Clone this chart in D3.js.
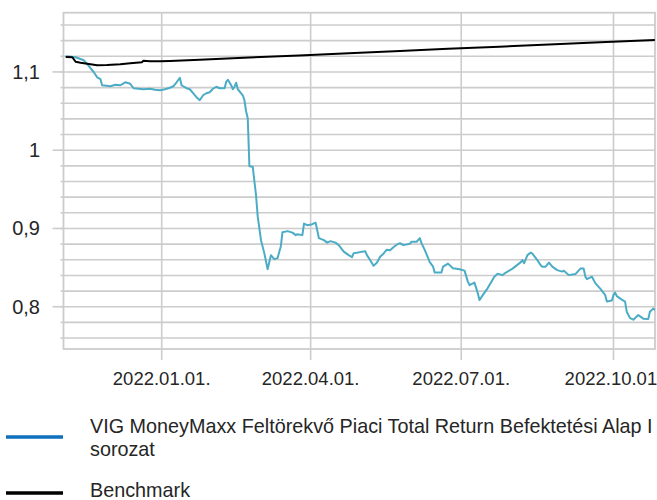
<!DOCTYPE html>
<html>
<head>
<meta charset="utf-8">
<script src="https://cdn.jsdelivr.net/npm/d3@7"></script>
<style>
  html, body { margin: 0; padding: 0; background: #ffffff; }
  svg { display: block; }
  text { font-family: "Liberation Sans", Arial, sans-serif; fill: #262626; }
</style>
</head>
<body>
<svg id="chart" width="657" height="500"></svg>
<script>
// ---------------- DATA ----------------
const fundDates = [
  "2021-11-04","2021-11-10","2021-11-15","2021-11-18","2021-11-21","2021-11-23","2021-11-25","2021-11-26",
  "2021-12-01","2021-12-04","2021-12-07","2021-12-10","2021-12-13","2021-12-15","2021-12-18","2021-12-21",
  "2021-12-25","2021-12-28","2021-12-31","2022-01-03","2022-01-06","2022-01-08","2022-01-10","2022-01-12",
  "2022-01-13","2022-01-16","2022-01-18","2022-01-20","2022-01-22","2022-01-24","2022-01-26","2022-01-28",
  "2022-01-30","2022-02-01","2022-02-03","2022-02-05","2022-02-08","2022-02-09","2022-02-10","2022-02-12",
  "2022-02-13","2022-02-14","2022-02-15","2022-02-16","2022-02-19","2022-02-20","2022-02-21","2022-02-22",
  "2022-02-23","2022-02-25","2022-02-27","2022-02-28","2022-03-02","2022-03-04","2022-03-06","2022-03-08",
  "2022-03-10","2022-03-12","2022-03-14","2022-03-15","2022-03-18","2022-03-21","2022-03-23","2022-03-24",
  "2022-03-27","2022-03-28","2022-03-30","2022-04-02","2022-04-04","2022-04-05","2022-04-06","2022-04-09",
  "2022-04-11","2022-04-13","2022-04-16","2022-04-18","2022-04-21","2022-04-24","2022-04-26","2022-04-27",
  "2022-04-29","2022-05-02","2022-05-04","2022-05-05","2022-05-07","2022-05-09","2022-05-11","2022-05-13",
  "2022-05-15","2022-05-17","2022-05-19","2022-05-21","2022-05-23","2022-05-25","2022-05-27","2022-05-31",
  "2022-06-01","2022-06-04","2022-06-06","2022-06-07","2022-06-09","2022-06-12","2022-06-14","2022-06-15",
  "2022-06-19","2022-06-20","2022-06-23","2022-06-26","2022-06-30","2022-07-03","2022-07-05","2022-07-06",
  "2022-07-09","2022-07-11","2022-07-12","2022-07-14","2022-07-17","2022-07-21","2022-07-23","2022-07-26",
  "2022-07-27","2022-08-01","2022-08-06","2022-08-07","2022-08-08","2022-08-10","2022-08-12","2022-08-13",
  "2022-08-16","2022-08-18","2022-08-19","2022-08-21","2022-08-23","2022-08-25","2022-08-28","2022-08-31",
  "2022-09-01","2022-09-04","2022-09-08","2022-09-11","2022-09-13","2022-09-14","2022-09-15","2022-09-18",
  "2022-09-20","2022-09-23","2022-09-26","2022-09-27","2022-09-30","2022-10-01","2022-10-02","2022-10-03",
  "2022-10-06","2022-10-08","2022-10-09","2022-10-11","2022-10-13","2022-10-16","2022-10-19","2022-10-22",
  "2022-10-23","2022-10-25","2022-10-26"
];
const fundValues = [
  1.1201,1.1188,1.1149,1.1073,1.0996,1.0932,1.0907,1.0830,
  1.0817,1.0837,1.0830,1.0868,1.0849,1.0792,1.0785,1.0779,
  1.0785,1.0773,1.0766,1.0779,1.0798,1.0817,1.0868,1.0926,
  1.0830,1.0792,1.0779,1.0728,1.0677,1.0639,1.0702,1.0728,
  1.0741,1.0785,1.0811,1.0792,1.0792,1.0875,1.0900,1.0830,
  1.0779,1.0811,1.0862,1.0779,1.0702,1.0639,1.0498,1.0409,
  0.9796,0.9789,0.9425,0.9157,0.8851,0.8685,0.8480,0.8659,
  0.8608,0.8621,0.8774,0.8953,0.8966,0.8947,0.8915,0.8927,
  0.8915,0.9062,0.9042,0.9055,0.9074,0.8978,0.8876,0.8851,
  0.8819,0.8838,0.8819,0.8787,0.8704,0.8659,0.8634,0.8685,
  0.8691,0.8704,0.8710,0.8659,0.8595,0.8525,0.8563,0.8640,
  0.8678,0.8729,0.8723,0.8761,0.8793,0.8812,0.8787,0.8806,
  0.8831,0.8831,0.8876,0.8812,0.8723,0.8570,0.8512,0.8436,
  0.8436,0.8512,0.8551,0.8493,0.8480,0.8461,0.8321,0.8276,
  0.8308,0.8174,0.8085,0.8148,0.8238,0.8384,0.8423,0.8404,
  0.8423,0.8487,0.8570,0.8595,0.8557,0.8659,0.8691,0.8678,
  0.8595,0.8531,0.8512,0.8512,0.8563,0.8512,0.8468,0.8449,
  0.8461,0.8404,0.8417,0.8487,0.8487,0.8384,0.8353,0.8384,
  0.8302,0.8231,0.8148,0.8066,0.8079,0.8148,0.8180,0.8136,
  0.8091,0.8066,0.7937,0.7855,0.7835,0.7893,0.7848,0.7842,
  0.7937,0.7976,0.7957
];
const benchDates = [
  "2021-11-04","2021-11-08","2021-11-10","2021-11-13","2021-11-17","2021-11-23","2021-11-29","2021-12-07",
  "2021-12-13","2021-12-20","2021-12-21","2021-12-25","2021-12-31","2022-01-06","2022-01-24","2022-02-23",
  "2022-03-25","2022-04-24","2022-05-25","2022-06-23","2022-07-24","2022-08-23","2022-09-23","2022-10-26"
];
const benchValues = [
  1.1192,1.1188,1.1130,1.1117,1.1105,1.1086,1.1088,1.1098,
  1.1111,1.1124,1.1143,1.1137,1.1137,1.1140,1.1156,1.1184,
  1.1211,1.1239,1.1267,1.1295,1.1323,1.1351,1.1378,1.1409
];
const seriesNames = ["VIG MoneyMaxx Feltörekvő Piaci Total Return Befektetési Alap I sorozat", "Benchmark"];
const legendLines = [["VIG MoneyMaxx Feltörekvő Piaci Total Return Befektetési Alap I", "sorozat"], ["Benchmark"]];
const yTickValues = [0.8, 0.9, 1, 1.1];
const yTickLabels = ["0,8", "0,9", "1", "1,1"];
const xTickDates = ["2022-01-01", "2022-04-01", "2022-07-01", "2022-10-01"];
const xTickLabels = ["2022.01.01.", "2022.04.01.", "2022.07.01.", "2022.10.01."];
const yDomain = [0.746, 1.1757];
const xDomain = ["2021-11-02T16:00", "2022-10-26T02:00"];

// ---------------- CHART ----------------
const parse = d3.utcParse("%Y-%m-%d");
const parseT = d3.utcParse("%Y-%m-%dT%H:%M");
const svg = d3.select("#chart");
const plot = { left: 63.5, right: 655, top: 12.7, bottom: 349 };

const x = d3.scaleUtc().domain(xDomain.map(parseT)).range([plot.left, plot.right]);
const y = d3.scaleLinear().domain(yDomain).range([plot.bottom, plot.top]);

const gridColor = "#cccccc";

// horizontal gridlines (every 0.02)
const gridVals = y.ticks(20);
svg.append("g").selectAll("line").data(gridVals).join("line")
  .attr("x1", plot.left).attr("x2", plot.right)
  .attr("y1", d => y(d)).attr("y2", d => y(d))
  .attr("stroke", gridColor).attr("stroke-width", 1.6);

// vertical gridlines at date ticks (extend below as tick marks)
const xTicks = xTickDates.map(parse);
svg.append("g").selectAll("line").data(xTicks).join("line")
  .attr("x1", d => x(d)).attr("x2", d => x(d))
  .attr("y1", plot.top).attr("y2", plot.bottom + 11)
  .attr("stroke", gridColor).attr("stroke-width", 1.6);

// plot frame
svg.append("rect")
  .attr("x", plot.left).attr("y", plot.top)
  .attr("width", plot.right - plot.left).attr("height", plot.bottom - plot.top)
  .attr("fill", "none").attr("stroke", gridColor).attr("stroke-width", 1.8);

// y axis minor ticks
svg.append("g").selectAll("line").data(gridVals).join("line")
  .attr("x1", plot.left - 3).attr("x2", plot.left)
  .attr("y1", d => y(d)).attr("y2", d => y(d))
  .attr("stroke", gridColor).attr("stroke-width", 1.6);
// y axis major ticks
svg.append("g").selectAll("line").data(yTickValues).join("line")
  .attr("x1", plot.left - 11).attr("x2", plot.left)
  .attr("y1", d => y(d)).attr("y2", d => y(d))
  .attr("stroke", gridColor).attr("stroke-width", 1.6);

// y labels
svg.append("g").selectAll("text").data(yTickValues).join("text")
  .attr("x", 40).attr("y", d => y(d)).attr("dy", "0.35em")
  .attr("text-anchor", "end").style("font-size", "20px")
  .text((d, i) => yTickLabels[i]);

// x labels
svg.append("g").selectAll("text").data(xTicks).join("text")
  .attr("x", d => x(d)).attr("y", 385)
  .attr("text-anchor", "middle").style("font-size", "18.5px")
  .text((d, i) => xTickLabels[i]);

// clip
svg.append("clipPath").attr("id", "clip").append("rect")
  .attr("x", plot.left).attr("y", plot.top)
  .attr("width", plot.right - plot.left).attr("height", plot.bottom - plot.top);

const line = d3.line().x(d => x(d.date)).y(d => y(d.value));
const fund = fundDates.map((d, i) => ({ date: parse(d), value: fundValues[i] }));
const bench = benchDates.map((d, i) => ({ date: parse(d), value: benchValues[i] }));

const lines = svg.append("g").attr("clip-path", "url(#clip)");
lines.append("path").datum(fund).attr("d", line)
  .attr("fill", "none").attr("stroke", "#4bacc6").attr("stroke-width", 2).attr("stroke-linejoin", "round");
lines.append("path").datum(bench).attr("d", line)
  .attr("fill", "none").attr("stroke", "#000000").attr("stroke-width", 2).attr("stroke-linejoin", "round");

// legend
const legendColors = ["#0f6fbd", "#000000"];
const legendLineY = [437, 493];
const legendTextY = [[433, 456], [497]];
const lg = svg.append("g");
seriesNames.forEach((name, i) => {
  lg.append("line").attr("x1", 6).attr("x2", 63)
    .attr("y1", legendLineY[i]).attr("y2", legendLineY[i])
    .attr("stroke", legendColors[i]).attr("stroke-width", 3.5);
  const t = lg.append("text").style("font-size", "19.8px");
  legendLines[i].forEach((txt, j) => {
    t.append("tspan").attr("x", 90).attr("y", legendTextY[i][j]).text(txt);
  });
});
</script>
</body>
</html>
